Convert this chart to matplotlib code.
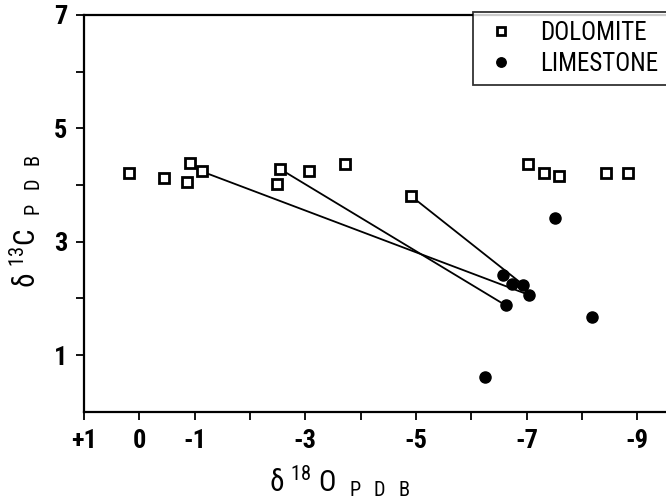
import matplotlib
matplotlib.use("Agg")
import matplotlib.pyplot as plt
from matplotlib import font_manager

names = sorted({f.name for f in font_manager.fontManager.ttflist})
narrow = None
for cand in ['Liberation Sans Narrow', 'DejaVu Sans Condensed', 'Roboto Condensed', 'Open Sans Condensed']:
    if cand in names:
        narrow = cand
        break
fam = [narrow, 'DejaVu Sans'] if narrow else ['DejaVu Sans']
plt.rcParams['font.family'] = fam
plt.rcParams['mathtext.default'] = 'regular'

# Dolomite samples (delta18O, delta13C)
dol_x = [0.18, -0.45, -0.92, -0.87, -1.13, -2.55, -2.49, -3.07, -3.72, -4.92,
         -7.02, -7.31, -7.58, -8.43, -8.84]
dol_y = [4.22, 4.13, 4.38, 4.06, 4.24, 4.28, 4.02, 4.25, 4.37, 3.80,
         4.37, 4.22, 4.16, 4.22, 4.22]

# Limestone samples
lim_x = [-7.51, -6.57, -6.73, -6.94, -7.05, -6.62, -8.19, -6.25]
lim_y = [3.42, 2.42, 2.26, 2.24, 2.06, 1.88, 1.67, 0.61]

# tie lines: (dolomite index, limestone index)
links = [(4, 4), (5, 5), (9, 3)]

x_ticks = [1, 0, -1, -2, -3, -4, -5, -6, -7, -8, -9]
x_ticklabels = ['+1', '0', '-1', '', '-3', '', '-5', '', '-7', '', '-9']
y_ticks = [1, 2, 3, 4, 5, 6, 7]
y_ticklabels = ['1', '', '3', '', '5', '', '7']

fig = plt.figure(figsize=(6.66, 4.98), dpi=100)
ax = fig.add_axes([0.126, 0.173, 0.874, 0.797])

for di, li in links:
    ax.plot([dol_x[di], lim_x[li]], [dol_y[di], lim_y[li]], color='black', lw=1.3, zorder=1)

ax.plot(dol_x, dol_y, linestyle='none', marker='s', markersize=7.5, markerfacecolor='white',
        markeredgecolor='black', markeredgewidth=2.0, label='DOLOMITE', zorder=3)
ax.plot(lim_x, lim_y, linestyle='none', marker='o', markersize=8, markerfacecolor='black',
        markeredgecolor='black', label='LIMESTONE', zorder=3)

ax.set_xlim(0.96, -9.52)
ax.set_ylim(0, 7)
ax.set_xticks(x_ticks)
ax.set_xticklabels(x_ticklabels)
ax.set_yticks(y_ticks)
ax.set_yticklabels(y_ticklabels)
ax.tick_params(axis='both', direction='out', length=6, width=1.3, labelsize=19, pad=6)
for lab in ax.get_xticklabels() + ax.get_yticklabels():
    lab.set_fontweight('bold')

ax.spines['right'].set_visible(False)
for s in ['left', 'bottom', 'top']:
    ax.spines[s].set_linewidth(1.6)

ax.set_xlabel(r'δ $^{18}$ O  $_{P\ \ D\ \ B}$', fontsize=21)
ax.xaxis.set_label_coords(0.44, -0.13)
ax.set_ylabel(r'δ $^{13}$C  $_{P\ \ D\ \ B}$', fontsize=21)
ax.yaxis.set_label_coords(-0.07, 0.48)

leg = ax.legend(loc='upper right', bbox_to_anchor=(1.001, 1.008), borderaxespad=0,
                fontsize=18, frameon=True, fancybox=False, edgecolor='black',
                handletextpad=0.8, borderpad=0.35, handlelength=1.5, labelspacing=0.3,
                markerscale=0.85)
leg.get_frame().set_linewidth(1.3)

fig.savefig('out.png', dpi=100)
